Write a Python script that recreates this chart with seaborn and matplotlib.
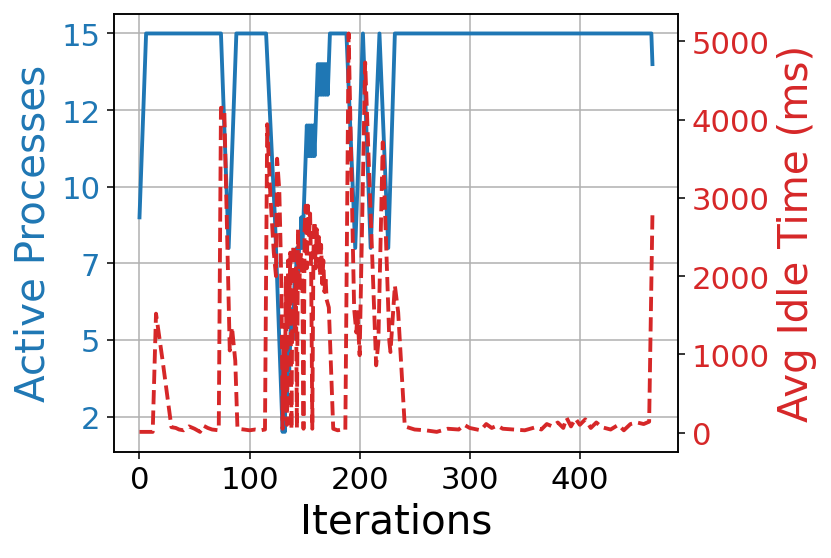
import numpy as np
import pandas as pd
import matplotlib
matplotlib.use("Agg")
import matplotlib.pyplot as plt
from matplotlib.ticker import FormatStrFormatter, MultipleLocator
import seaborn as sns

# active processes per iteration
proc_iter = [0, 6, 74, 81, 88, 115, 123, 130, 131, 132, 133, 134, 135, 136, 137, 138, 139,
             140, 141, 142, 143, 144, 145, 146, 147, 148, 149, 150,
             151, 152, 153, 154, 155, 156, 157, 158, 159, 160,
             161, 162, 163, 164, 165, 166, 167, 168, 169, 170, 171, 172, 173,
             188, 196, 203, 210, 218, 226, 232, 465, 466]
proc_vals = [9, 15, 15, 8, 15, 15, 9, 2, 3, 2, 4, 3, 5, 4, 5, 6, 5,
             6, 7, 7, 8, 7, 8, 8, 9, 8, 9, 10,
             11, 12, 11, 12, 11, 12, 11, 12, 11, 12,
             13, 14, 13, 14, 13, 14, 13, 14, 13, 14, 13, 14, 15,
             15, 8, 15, 8, 15, 8, 15, 15, 14]

# average idle time (ms) per iteration
idle_iter = [0, 12, 15, 21, 29, 33, 36, 40, 45, 50, 55, 58, 62, 66, 72, 74, 77,
             82, 84, 87, 89, 95, 100, 105, 110, 114, 116, 119, 122, 124, 125, 127,
             128, 129, 130, 131, 132, 133, 134, 135, 136, 137, 138, 139, 140, 141,
             142, 143, 144, 145, 146, 147, 148, 149, 150, 151, 152, 153, 154, 155,
             156, 157, 158, 159, 160, 161, 162, 163, 164, 165, 166, 167, 168, 169,
             170, 172, 176, 180, 184, 187, 190, 195, 197, 198, 200, 205, 210, 215,
             217, 221, 227, 228, 232, 235, 241, 250, 260, 270, 280, 290, 295, 300,
             310, 315, 320, 325, 330, 340, 350, 360, 365, 370, 375, 380, 385, 388,
             392, 396, 400, 405, 410, 415, 420, 428, 435, 440, 446, 452, 458, 463, 466]
idle_vals = [10, 10, 1520, 920, 70, 60, 40, 30, 80, 50, 10, 90, 60, 40, 30, 4150, 4150,
             1050, 1350, 920, 50, 40, 30, 40, 30, 40, 3940, 3000, 2300, 2000, 3500, 3100,
             2500, 1800, 50, 1200, 300, 2000, 100, 2200, 1500, 2300, 40, 1900, 2400, 1300,
             2100, 60, 2600, 1800, 2200, 2300, 1900, 50, 2600, 2900, 2100, 2900, 2500, 2800,
             2000, 50, 2300, 2700, 2100, 2600, 2300, 2500, 2000, 2400, 1900, 2200, 1800, 2000,
             1700, 1600, 50, 30, 40, 30, 5100, 1580, 1280, 1540, 990, 4730, 2800, 860,
             1160, 3710, 1160, 1030, 1880, 1540, 80, 40, 30, 10, 50, 40, 100, 60,
             30, 110, 60, 90, 50, 40, 30, 70, 40, 110, 80, 130, 60, 190,
             80, 180, 100, 170, 60, 130, 70, 40, 100, 30, 110, 130, 110, 140, 2790]

proc_df = pd.DataFrame({"iteration": proc_iter, "active": proc_vals})
idle_df = pd.DataFrame({"iteration": idle_iter, "idle": idle_vals})

fig, ax1 = plt.subplots(figsize=(6, 4.036), dpi=138.5)
fig.subplots_adjust(left=0.137, right=0.816, bottom=0.19, top=0.974)

blue = "tab:blue"
red = "tab:red"

sns.lineplot(data=proc_df, x="iteration", y="active", ax=ax1, color=blue,
             linewidth=2, estimator=None, sort=False)
ax1.set_xlabel("Iterations", fontsize=21)
ax1.set_ylabel("Active Processes", fontsize=21, color=blue)
ax1.yaxis.set_major_locator(MultipleLocator(2.5))
ax1.yaxis.set_major_formatter(FormatStrFormatter("%d"))
ax1.tick_params(axis="y", labelcolor=blue, labelsize=16)
ax1.tick_params(axis="x", labelsize=16)
ax1.grid(True)

ax2 = ax1.twinx()
sns.lineplot(data=idle_df, x="iteration", y="idle", ax=ax2, color=red,
             linewidth=2, linestyle="--", estimator=None, sort=False)
ax2.set_ylabel("Avg Idle Time (ms)", fontsize=21, color=red)
ax2.tick_params(axis="y", labelcolor=red, labelsize=16)

fig.savefig("out.png", dpi=138.5)
